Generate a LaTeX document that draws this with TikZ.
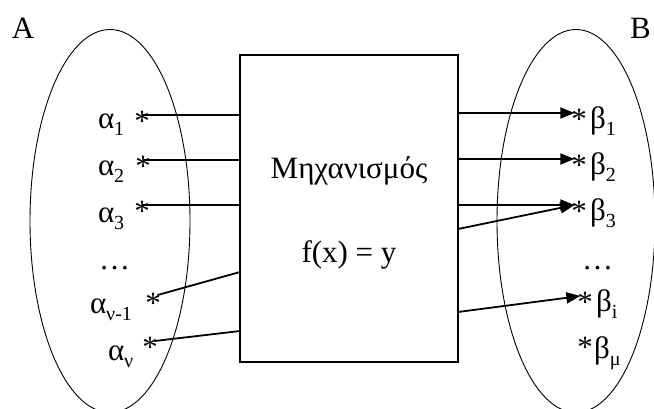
\documentclass[tikz,border=0pt]{standalone}
\usepackage{fontspec}
\setmainfont{Liberation Serif}
\usetikzlibrary{arrows.meta,positioning,shapes.geometric}
\newcommand{\stmark}{\makebox[0.3em]{\raisebox{-0.52em}{*}}}
\newcommand{\lowidx}[1]{\raisebox{-0.25em}{\fontsize{20}{22}\selectfont #1}}

\begin{document}
\begin{tikzpicture}[x=1pt, y=-1pt, >={Triangle[length=14pt,width=11pt]},
    every node/.style={font=\fontsize{31}{36}\selectfont, inner sep=0pt, outer sep=0pt},
    star/.style={text height=0.2em, text depth=0.2em},
    lbl/.style={anchor=base west},
    conn/.style={line width=1.8pt}]
    \useasboundingbox (0,0) rectangle (654,408);
    \node[draw, ellipse, line width=0.9pt, minimum width=160pt, minimum height=383pt] (setA) at (110,221) {};
    \node[draw, ellipse, line width=0.9pt, minimum width=158pt, minimum height=383pt] (setB) at (576,221) {};
    \node[draw, line width=1.2pt, minimum width=218pt, minimum height=307pt] (mech) at (349,208.5) {};
    \node[lbl] (nameA) at (12,38) {A};
    \node[lbl] (nameB) at (630,38) {B};
    \node[anchor=base] (mname) at (349,178) {Μηχανισμός};
    \node[anchor=base] (mfunc) at (349,262) {f(x) = y};

    \node[lbl] (a1) at (98,128) {α\lowidx{1}};
    \node[lbl] (a2) at (98,175) {α\lowidx{2}};
    \node[lbl] (a3) at (98,222) {α\lowidx{3}};
    \node[lbl] (adots) at (99,269) {…};
    \node[lbl] (an1) at (90,313) {α\lowidx{ν-1}};
    \node[lbl] (an) at (108,360) {α\lowidx{ν}};
    \node[star] (sa1) at (142,115) {\stmark};
    \node[star] (sa2) at (143,160) {\stmark};
    \node[star] (sa3) at (142,205) {\stmark};
    \node[star] (sa4) at (153,297) {\stmark};
    \node[star] (sa5) at (150,341) {\stmark};

    \node[lbl] (b1) at (590,128) {β\lowidx{1}};
    \node[lbl] (b2) at (590,174) {β\lowidx{2}};
    \node[lbl] (b3) at (590,220) {β\lowidx{3}};
    \node[lbl] (bdots) at (582,269) {…};
    \node[lbl] (bi) at (596,311) {β\lowidx{i}};
    \node[lbl] (bm) at (594,358) {β\lowidx{μ}};
    \node[star] (sb1) at (579,113) {\stmark};
    \node[star] (sb2) at (579,159) {\stmark};
    \node[star] (sb3) at (579,205) {\stmark};
    \node[star] (sbi) at (585,296) {\stmark};
    \node[star] (sbm) at (585,341) {\stmark};

    \coordinate (in4) at (mech.west |- 0,272);
    \coordinate (in5) at (mech.west |- 0,331);
    \coordinate (out4) at (mech.east |- 0,229);
    \coordinate (out5) at (mech.east |- 0,312);

    \draw[conn] (sa1.center) -- (mech.west |- sa1);
    \draw[conn] (sa2.center) -- (mech.west |- sa2);
    \draw[conn] (sa3.center) -- (mech.west |- sa3);
    \draw[conn] (sa4.north east) -- (in4);
    \draw[conn] (sa5.east) -- (in5);

    \draw[conn, ->] (mech.east |- sb1) -- (sb1.west);
    \draw[conn, ->] (mech.east |- sb2) -- (sb2.west);
    \draw[conn, ->] (mech.east |- sb3) -- (sb3.west);
    \draw[conn, ->] (out4) -- (sb3.west);
    \draw[conn, ->] (out5) -- (sbi.west);
\end{tikzpicture}
\end{document}
